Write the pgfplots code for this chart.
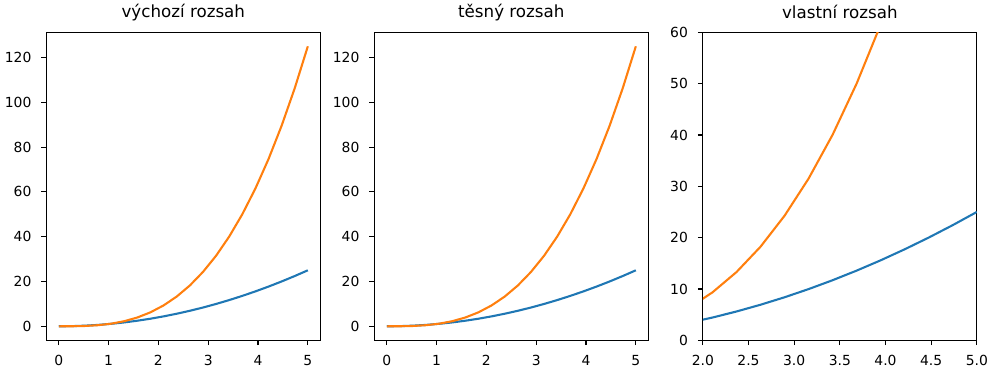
\documentclass[border=0pt]{standalone}
\usepackage{fontspec}
\setmainfont{DejaVu Sans}
\usepackage{pgfplots}
\pgfplotsset{compat=1.18}
\definecolor{mplblue}{HTML}{1F77B4}
\definecolor{mplorange}{HTML}{FF7F0E}
\newcommand{\ttl}[1]{\fontsize{16.7}{20}\selectfont #1}
\pgfplotsset{
  mplstyle/.style={
    scale only axis, width=274pt, height=308pt, anchor=south west,
    axis line style={line width=1.1pt, black},
    tick align=outside, major tick length=4.9pt,
    every tick/.style={line width=1.1pt, black},
    xtick pos=bottom, ytick pos=left,
    /pgf/number format/assume math mode=true,
    tick label style={font=\fontsize{13.9}{16}\selectfont, inner sep=0pt},
    xticklabel style={anchor=north, yshift=-9.8pt},
    yticklabel style={anchor=east, xshift=-9.8pt},
    title style={at={(0.5,1)}, anchor=base, inner sep=0pt, yshift=8.3pt},
    every axis plot/.append style={line width=2.08pt, mark=none, line join=round},
    clip=true,
  }
}
\pgfplotstableread{
x sq cu
0 0 0
0.26316 0.06925 0.01822
0.52632 0.27701 0.14579
0.78947 0.62327 0.49205
1.05263 1.10803 1.16635
1.31579 1.73130 2.27803
1.57895 2.49307 3.93644
1.84211 3.39335 6.25091
2.10526 4.43213 9.33081
2.36842 5.60942 13.28547
2.63158 6.92521 18.22423
2.89474 8.37950 24.25645
3.15789 9.97230 31.49147
3.42105 11.70360 40.03864
3.68421 13.57341 50.00729
3.94737 15.58172 61.50678
4.21053 17.72853 74.64645
4.47368 20.01385 89.53565
4.73684 22.43767 106.28372
5 25 125
}\datatable
\begin{document}
\begin{tikzpicture}
\path[use as bounding box] (0,0) rectangle (997pt,374pt);
\begin{axis}[mplstyle, at={(46.3pt,33.7pt)}, title={\ttl{výchozí rozsah}},
  xmin=-0.25, xmax=5.25, ymin=-6.25, ymax=131.25,
  xtick={0,1,2,3,4,5}, ytick={0,20,40,60,80,100,120}]
\addplot[mplblue] table[x=x,y=sq] {\datatable};
\addplot[mplorange] table[x=x,y=cu] {\datatable};
\end{axis}
\begin{axis}[mplstyle, at={(374.3pt,33.7pt)}, title={\ttl{těsný rozsah}},
  xmin=-0.25, xmax=5.25, ymin=-6.25, ymax=131.25,
  xtick={0,1,2,3,4,5}, ytick={0,20,40,60,80,100,120}]
\addplot[mplblue] table[x=x,y=sq] {\datatable};
\addplot[mplorange] table[x=x,y=cu] {\datatable};
\end{axis}
\begin{axis}[mplstyle, at={(702.8pt,33.7pt)}, title={\ttl{vlastní rozsah}},
  xmin=2, xmax=5, ymin=0, ymax=60,
  xtick={2,2.5,3,3.5,4,4.5,5}, ytick={0,10,20,30,40,50,60},
  xticklabel style={/pgf/number format/.cd, fixed, fixed zerofill, precision=1}]
\addplot[mplblue] table[x=x,y=sq] {\datatable};
\addplot[mplorange] table[x=x,y=cu] {\datatable};
\end{axis}
\end{tikzpicture}
\end{document}
